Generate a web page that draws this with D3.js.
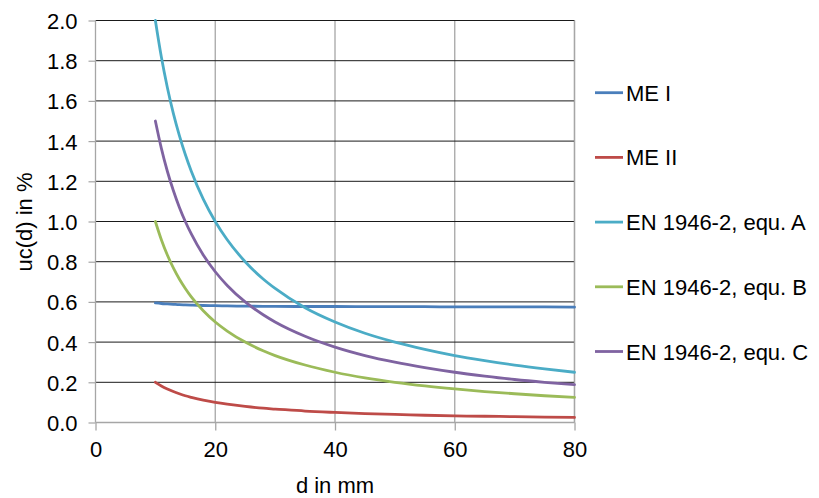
<!DOCTYPE html>
<html><head><meta charset="utf-8">
<script src="https://cdn.jsdelivr.net/npm/d3@7"></script>
<style>
html,body{margin:0;padding:0;background:#fff;}
svg text{font-family:"Liberation Sans",Arial,sans-serif;fill:#000;}
</style></head>
<body><svg id="c" width="819" height="498"></svg>
<script>
const d = [10,11,12,13,14,15,16,18,20,22,25,28,30,35,40,45,50,55,60,65,70,75,80];
const meI   = [0.595,0.592,0.590,0.588,0.586,0.585,0.584,0.582,0.581,0.580,0.579,0.578,0.578,0.577,0.577,0.576,0.576,0.576,0.575,0.575,0.575,0.575,0.574];
const meII  = [0.200,0.182,0.167,0.154,0.143,0.133,0.125,0.111,0.100,0.091,0.080,0.071,0.067,0.057,0.050,0.044,0.040,0.036,0.033,0.031,0.029,0.027,0.025];
const enA   = [2.000,1.818,1.667,1.538,1.429,1.333,1.250,1.111,1.000,0.909,0.800,0.714,0.667,0.571,0.500,0.444,0.400,0.364,0.333,0.308,0.286,0.267,0.250];
const enB   = [1.000,0.909,0.833,0.769,0.714,0.667,0.625,0.556,0.500,0.455,0.400,0.357,0.333,0.286,0.250,0.222,0.200,0.182,0.167,0.154,0.143,0.133,0.125];
const enC   = [1.500,1.364,1.250,1.154,1.071,1.000,0.938,0.833,0.750,0.682,0.600,0.536,0.500,0.429,0.375,0.333,0.300,0.273,0.250,0.231,0.214,0.200,0.188];
const seriesNames = ["ME I","ME II","EN 1946-2, equ. A","EN 1946-2, equ. B","EN 1946-2, equ. C"];
const seriesValues = [meI, meII, enA, enB, enC];
const seriesColors = ["#4a7ebb","#be4b48","#4bacc6","#9bbb59","#7f63a1"];
const xTicks = [0,20,40,60,80];
const yTicks = [0,0.2,0.4,0.6,0.8,1.0,1.2,1.4,1.6,1.8,2.0];

const svg = d3.select("#c");
const x = d3.scaleLinear().domain([0,80]).range([95.5,574.5]);
const y = d3.scaleLinear().domain([0,2]).range([422.5,20.5]);

// vertical grid
svg.append("g").selectAll("line").data(xTicks.filter(t=>t>0)).join("line")
  .attr("x1",t=>x(t)).attr("x2",t=>x(t)).attr("y1",y(2)).attr("y2",y(0))
  .attr("stroke","#a6a6a6").attr("stroke-width",1.3);
// horizontal grid
svg.append("g").selectAll("line").data(yTicks.filter(t=>t>0)).join("line")
  .attr("x1",x(0)).attr("x2",x(80)).attr("y1",t=>y(t)).attr("y2",t=>y(t))
  .attr("stroke","#1a1a1a").attr("stroke-width",1);

// y axis
const yAxis = d3.axisLeft(y).tickValues(yTicks).tickFormat(d3.format(".1f")).tickSize(7).tickPadding(11);
const gy = svg.append("g").attr("transform",`translate(${x(0)},0)`).call(yAxis);
gy.select(".domain").attr("stroke","#a6a6a6").attr("stroke-width",1.3).attr("d",`M0,${y(2)}V${y(0)}`);
gy.selectAll(".tick line").attr("stroke","#a6a6a6").attr("stroke-width",1.2);
gy.selectAll("text").attr("font-size",22).attr("font-family","Liberation Sans, Arial, sans-serif").attr("fill","#000").attr("dy","0.36em");

// x axis
const xAxis = d3.axisBottom(x).tickValues(xTicks).tickFormat(d3.format("d")).tickSize(8).tickPadding(11);
const gx = svg.append("g").attr("transform",`translate(0,${y(0)})`).call(xAxis);
gx.select(".domain").attr("stroke","#a6a6a6").attr("stroke-width",1.3).attr("d",`M${x(0)},0H${x(80)}`);
gx.selectAll(".tick line").attr("stroke","#a6a6a6").attr("stroke-width",1.3);
gx.selectAll("text").attr("font-size",22).attr("font-family","Liberation Sans, Arial, sans-serif").attr("fill","#000");

// right border
svg.append("line").attr("x1",x(80)).attr("x2",x(80)).attr("y1",y(2)).attr("y2",y(0))
  .attr("stroke","#a6a6a6").attr("stroke-width",1.3);

// lines
const line = d3.line().x((v,i)=>x(d[i])).y(v=>y(v)).curve(d3.curveMonotoneX);
svg.append("g").selectAll("path").data(seriesValues).join("path")
  .attr("d",line).attr("fill","none")
  .attr("stroke",(v,i)=>seriesColors[i]).attr("stroke-width",2.8)
  .attr("stroke-linecap","round");

// axis titles
svg.append("text").attr("x",335).attr("y",493).attr("text-anchor","middle")
  .attr("font-size",22).text("d in mm");
svg.append("text").attr("transform","translate(32,222) rotate(-90)").attr("text-anchor","middle")
  .attr("font-size",22).text("uc(d) in %");

// legend
const leg = svg.append("g").selectAll("g").data(seriesNames).join("g")
  .attr("transform",(n,i)=>`translate(595,${92.7+i*64.7})`);
leg.append("line").attr("x1",0).attr("x2",28).attr("y1",0).attr("y2",0)
  .attr("stroke",(n,i)=>seriesColors[i]).attr("stroke-width",2.8);
leg.append("text").attr("x",31).attr("y",8).attr("font-size",22).text(n=>n);
</script></body></html>
